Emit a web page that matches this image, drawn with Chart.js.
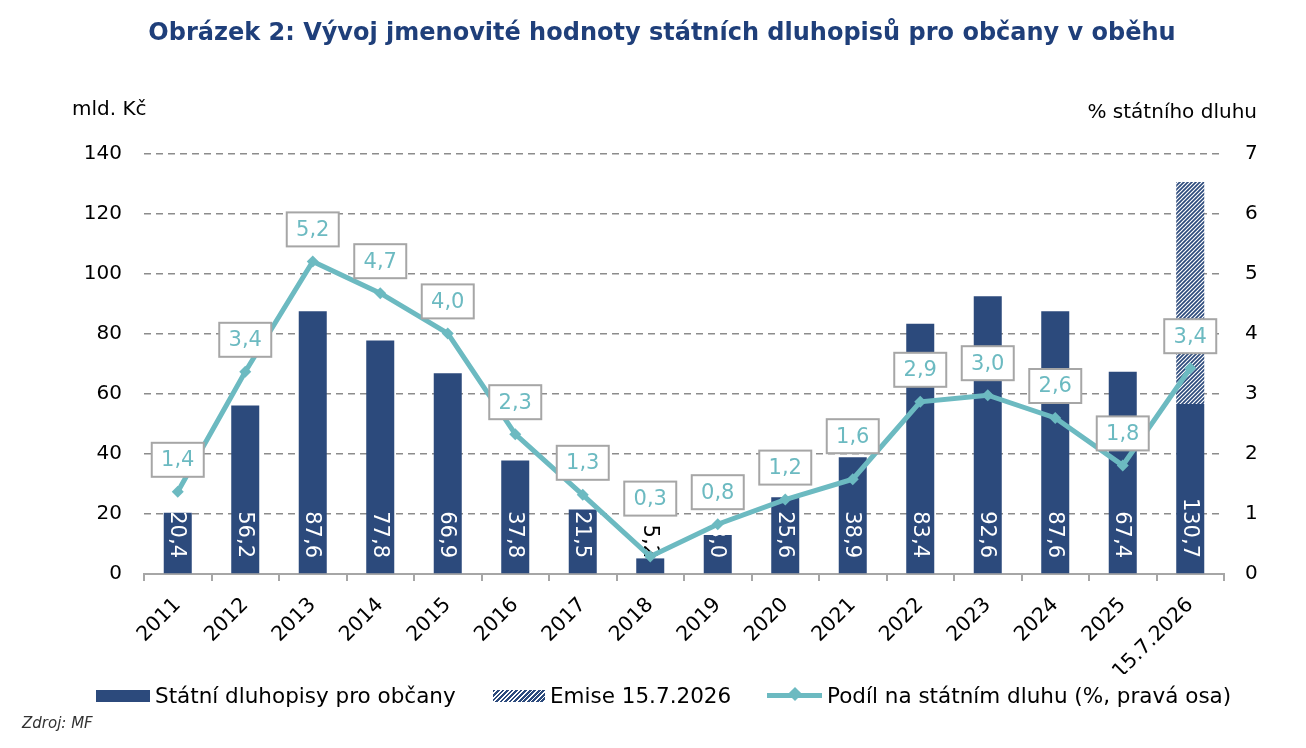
<!DOCTYPE html>
<html lang="cs">
<head>
<meta charset="utf-8">
<script src="https://cdn.jsdelivr.net/npm/chart.js@4.4.1/dist/chart.umd.min.js"></script>
<style>
  html, body { margin: 0; padding: 0; background: #fff; }
  #wrap { position: relative; width: 1306px; height: 748px; overflow: hidden; font-family: "DejaVu Sans", Verdana, sans-serif; }
  #c { position: absolute; left: 0; top: 0; }
  .abs { position: absolute; white-space: nowrap; line-height: 1; }
  #title { left: 0; width: 1324px; top: 20px; text-align: center; font-weight: bold; font-size: 24px; color: #1f3f7a; }
  #ytitle { left: 72px; top: 98px; font-size: 20px; color: #000; }
  #y1title { right: 49px; top: 101px; font-size: 20px; color: #000; }
  .legtxt { font-size: 21.5px; color: #000; top: 685px; }
  .sw { position: absolute; }
  #src { left: 22px; top: 716px; font-size: 15px; font-style: italic; color: #333; }
</style>
</head>
<body>
<div id="wrap">
  <canvas id="c" width="1306" height="748"></canvas>
  <div class="abs" id="title">Obrázek 2: Vývoj jmenovité hodnoty státních dluhopisů pro občany v oběhu</div>
  <div class="abs" id="ytitle">mld. Kč</div>
  <div class="abs" id="y1title">% státního dluhu</div>

  <div class="sw" style="left:96px;top:690px;width:54px;height:12px;background:#2c4a7c;"></div>
  <div class="abs legtxt" style="left:155px;">Státní dluhopisy pro občany</div>
  <div class="sw" style="left:493px;top:690px;width:52px;height:12px;background:repeating-linear-gradient(135deg,#2c4a7c 0px,#2c4a7c 2px,#ffffff 2px,#ffffff 3.2px);"></div>
  <div class="abs legtxt" style="left:550px;">Emise 15.7.2026</div>
  <div class="sw" style="left:767px;top:693px;width:55px;height:5px;background:#6cbac1;"></div>
  <div class="sw" style="left:790px;top:689px;width:10px;height:10px;background:#6cbac1;transform:rotate(45deg);"></div>
  <div class="abs legtxt" style="left:827px;">Podíl na státním dluhu (%, pravá osa)</div>

  <div class="abs" id="src">Zdroj: MF</div>
</div>
<script>
// ---- data ----
const categories = ["2011","2012","2013","2014","2015","2016","2017","2018","2019","2020","2021","2022","2023","2024","2025","15.7.2026"];
const bondValues = [20.4, 56.2, 87.6, 77.8, 66.9, 37.8, 21.5, 5.2, 13.0, 25.6, 38.9, 83.4, 92.6, 87.6, 67.4, 56.7];
const emissionValues = [null, null, null, null, null, null, null, null, null, null, null, null, null, null, null, 74.0];
const debtShare = [1.37, 3.37, 5.21, 4.68, 4.01, 2.33, 1.32, 0.29, 0.83, 1.24, 1.58, 2.87, 2.98, 2.60, 1.81, 3.43];
const leftTicks = [0, 20, 40, 60, 80, 100, 120, 140];
const rightTicks = [0, 1, 2, 3, 4, 5, 6, 7];

const NAVY = '#2c4a7c';
const TEAL = '#6cbac1';
const FONT = '"DejaVu Sans", Verdana, sans-serif';

// hatch pattern
function makeHatch() {
  const s = 4;
  const p = document.createElement('canvas');
  p.width = s; p.height = s;
  const g = p.getContext('2d');
  g.fillStyle = NAVY; g.fillRect(0, 0, s, s);
  g.strokeStyle = '#ffffff'; g.lineWidth = 1.2;
  g.beginPath();
  g.moveTo(0, s); g.lineTo(s, 0);
  g.moveTo(-s/2, s/2); g.lineTo(s/2, -s/2);
  g.moveTo(s/2, s*1.5); g.lineTo(s*1.5, s/2);
  g.stroke();
  return document.getElementById('c').getContext('2d').createPattern(p, 'repeat');
}

const fmt = v => v.toFixed(1).replace('.', ',');

// bar value labels (rotated, inside bar base)
const barLabelPlugin = {
  id: 'barLabels',
  afterDatasetDraw(chart, args) {
    if (args.index !== 1) return;
    const ctx = chart.ctx;
    const y = chart.scales.y;
    const meta = chart.getDatasetMeta(1);
    ctx.save();
    ctx.font = '21px ' + FONT;
    for (let i = 0; i < categories.length; i++) {
      const total = (bondValues[i] || 0) + (emissionValues[i] || 0);
      const el = meta.data[i];
      const x = el.x;
      const base = y.getPixelForValue(0);
      const top = y.getPixelForValue(total);
      const txt = fmt(total);
      const w = ctx.measureText(txt).width;
      const barH = base - top;
      ctx.fillStyle = barH < w * 0.75 ? '#000000' : '#ffffff';
      ctx.save();
      ctx.translate(x, base - 16);
      ctx.rotate(Math.PI / 2);
      ctx.textAlign = 'right';
      ctx.textBaseline = 'middle';
      ctx.fillText(txt, 0, 1);
      ctx.restore();
    }
    ctx.restore();
  }
};

// boxed labels above line points
const pointLabelPlugin = {
  id: 'pointLabels',
  afterDatasetsDraw(chart, args, opts) {
    const ctx = chart.ctx;
    const meta = chart.getDatasetMeta(0);
    const extra = opts.extraGap || {};
    ctx.save();
    ctx.font = '21px ' + FONT;
    ctx.textAlign = 'center';
    ctx.textBaseline = 'middle';
    meta.data.forEach((pt, i) => {
      const bw = 52, bh = 34;
      const gap = 15 + (extra[i] || 0);
      const bx = pt.x - bw / 2;
      const by = pt.y - gap - bh;
      ctx.fillStyle = '#ffffff';
      ctx.fillRect(bx, by, bw, bh);
      ctx.strokeStyle = '#a6a6a6';
      ctx.lineWidth = 2;
      ctx.strokeRect(bx, by, bw, bh);
      ctx.fillStyle = TEAL;
      ctx.fillText(fmt(debtShare[i]), pt.x, by + bh / 2 + 1);
    });
    ctx.restore();
  }
};

const hatch = makeHatch();

new Chart(document.getElementById('c'), {
  data: {
    labels: categories,
    datasets: [
      {
        type: 'line',
        label: 'Podíl na státním dluhu (%, pravá osa)',
        data: debtShare,
        yAxisID: 'y1',
        stack: 'line',
        order: 0,
        borderColor: TEAL,
        backgroundColor: TEAL,
        borderWidth: 5,
        pointStyle: 'rectRot',
        pointRadius: 6,
        pointBorderWidth: 0,
        pointBackgroundColor: TEAL,
        tension: 0
      },
      {
        type: 'bar',
        label: 'Státní dluhopisy pro občany',
        data: bondValues,
        yAxisID: 'y',
        stack: 'bars',
        order: 1,
        backgroundColor: NAVY,
        barPercentage: 0.415,
        categoryPercentage: 1.0
      },
      {
        type: 'bar',
        label: 'Emise 15.7.2026',
        data: emissionValues,
        yAxisID: 'y',
        stack: 'bars',
        order: 2,
        backgroundColor: hatch,
        barPercentage: 0.415,
        categoryPercentage: 1.0
      }
    ]
  },
  options: {
    responsive: false,
    animation: false,
    devicePixelRatio: 1,
    layout: { padding: { left: 0, right: 0, top: 154, bottom: 74 } },
    plugins: {
      legend: { display: false },
      title: { display: false },
      tooltip: { enabled: false },
      pointLabels: { extraGap: { 7: 26, 10: 11 } }
    },
    scales: {
      x: {
        stacked: true,
        afterFit(s) { s.height = 100; },
        grid: { display: true, drawOnChartArea: false, drawTicks: true, tickLength: 7, color: '#a6a6a6', lineWidth: 2, offset: true },
        border: { display: true, color: '#a6a6a6', width: 2 },
        ticks: { color: '#000', font: { family: FONT, size: 20.5 }, maxRotation: 45, minRotation: 45, padding: 12, autoSkip: false }
      },
      y: {
        position: 'left',
        stacked: true,
        min: leftTicks[0],
        max: leftTicks[leftTicks.length - 1],
        afterFit(s) { s.width = 144; },
        afterBuildTicks(s) { s.ticks = leftTicks.map(v => ({ value: v })); },
        grid: { color: '#8c8c8c', lineWidth: 1.5, drawTicks: false },
        border: { display: false, dash: [7, 5] },
        ticks: { color: '#000', font: { family: FONT, size: 20 }, padding: 22 }
      },
      y1: {
        position: 'right',
        min: rightTicks[0],
        max: rightTicks[rightTicks.length - 1],
        afterFit(s) { s.width = 82; },
        afterBuildTicks(s) { s.ticks = rightTicks.map(v => ({ value: v })); },
        grid: { display: false, drawTicks: false },
        border: { display: false },
        ticks: { color: '#000', font: { family: FONT, size: 20 }, padding: 21 }
      }
    }
  },
  plugins: [barLabelPlugin, pointLabelPlugin]
});
</script>
</body>
</html>
